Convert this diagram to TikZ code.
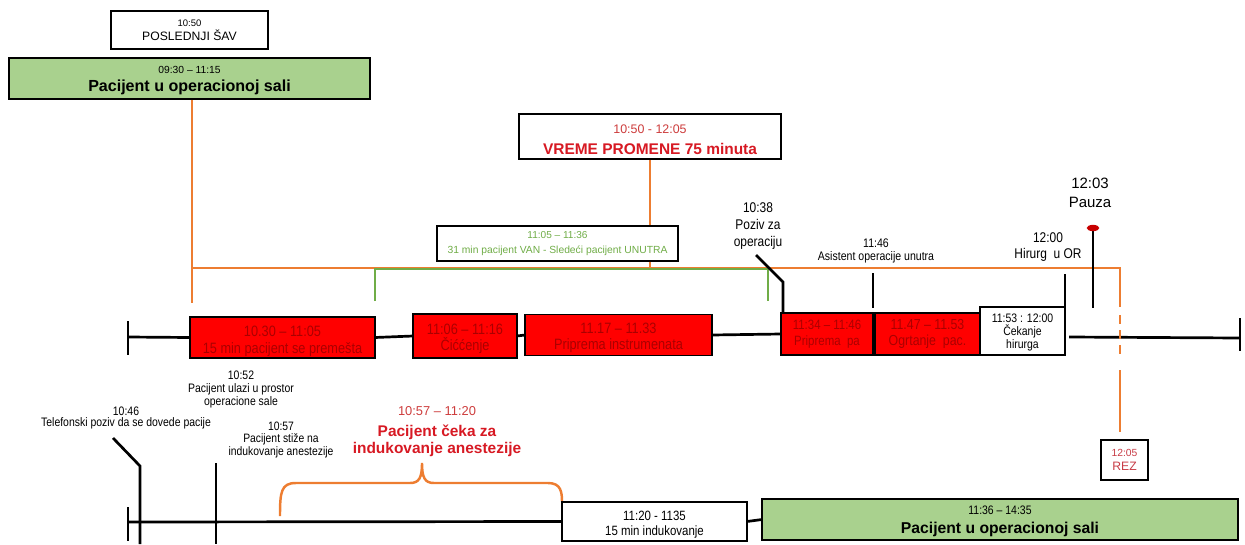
\documentclass[tikz,border=0pt]{standalone}
\usepackage{fontspec}
\setmainfont{Liberation Sans}
\newfontfamily\nar[FakeStretch=0.85]{Liberation Sans}
\usetikzlibrary{backgrounds}
\definecolor{orng}{RGB}{237,125,49}
\definecolor{grn}{RGB}{112,173,71}
\definecolor{grnfill}{RGB}{169,209,142}
\definecolor{redfill}{RGB}{255,0,0}
\definecolor{redtxt}{RGB}{170,0,0}
\definecolor{hred}{RGB}{215,25,35}
\definecolor{lred}{RGB}{205,60,60}
\definecolor{rezred}{RGB}{200,60,70}
\definecolor{dotred}{RGB}{200,0,0}
\newcommand\sr[1]{\rule{0pt}{#1pt}}
\begin{document}
\begin{tikzpicture}[x=0.3mm,y=-0.3mm,
  box/.style={draw=black,line width=1.4pt,inner sep=0pt,outer sep=0pt,align=center},
  redbox/.style={box,fill=redfill,text=redtxt},
  greenbox/.style={box,fill=grnfill},
  whitebox/.style={box,fill=white},
  blk/.style={line width=2.3pt,black},
  orl/.style={line width=2pt,orng},
  grl/.style={line width=2pt,grn},
  lbl/.style={inner sep=0pt,align=center}]
\useasboundingbox (0,0) rectangle (1245,544);

% ---------- boxes ----------
\node[whitebox,minimum width=47.1mm,minimum height=11.4mm,font={\fontsize{8.1}{12}\selectfont}] (last) at (189.5,30)
  {10:50\\\fontsize{10.4}{12}\selectfont POSLEDNJI ŠAV};
\node[greenbox,minimum width=108.3mm,minimum height=12.3mm,font={\fontsize{8.8}{13.7}\selectfont}] (pac1) at (189.5,78.5)
  {\sr{10}09:30 – 11:15\\[2pt]\fontsize{13.7}{13.7}\selectfont\bfseries Pacijent u operacionoj sali};
\node[whitebox,minimum width=78.6mm,minimum height=13.5mm,font={\fontsize{10.6}{15.4}\selectfont}] (vreme) at (650,136.5)
  {\color{lred}\sr{12.6}10:50 - 12:05\\[2.5pt]\color{hred}\fontsize{13.2}{15.4}\selectfont\bfseries VREME PROMENE 75 minuta};
\node[whitebox,text=grn,minimum width=72.3mm,minimum height=10.5mm,font={\fontsize{8.6}{11.1}\selectfont}] (van) at (557.5,243.5)
  {11:05 – 11:36\\[1pt]\fontsize{8.8}{11.1}\selectfont 31 min pacijent VAN - Sledeći pacijent UNUTRA};

\node[redbox,minimum width=55.5mm,minimum height=12.3mm,font={\nar\fontsize{12.8}{13.7}\selectfont}] (r1) at (282.5,337.5)
  {\sr{15}10.30 – 11:05\\[0.5pt]15 min pacijent se premešta};
\node[redbox,minimum width=31.2mm,minimum height=13.2mm,font={\nar\fontsize{12.8}{13.7}\selectfont}] (r2) at (465,336)
  {\sr{14.3}11:06 – 11:16\\Čiććenje};
\node[redbox,minimum width=56.1mm,minimum height=12.3mm,font={\nar\fontsize{12.8}{13.7}\selectfont}] (r3) at (618.5,335)
  {\sr{14.3}11.17 – 11.33\\Priprema instrumenata};
\node[redbox,minimum width=27.6mm,minimum height=12.6mm,font={\nar\fontsize{11.5}{13.7}\selectfont}] (r4) at (827,334)
  {11:34 – 11:46\\Priprema\ \ pa};
\node[redbox,minimum width=31.5mm,minimum height=12.6mm,font={\nar\fontsize{12.4}{13.7}\selectfont}] (r5) at (927.5,334)
  {11.47 – 11.53\\Ogrtanje\ \ pac.};
\node[whitebox,minimum width=25.5mm,minimum height=14.4mm,font={\nar\fontsize{10.5}{11.3}\selectfont}] (wait) at (1022.5,331)
  {\sr{9.5}11:53 : 12:00\\Čekanje\\hirurga};
\node[whitebox,text=rezred,minimum width=14.1mm,minimum height=12mm,font={\fontsize{8.8}{12}\selectfont}] (rez) at (1124.5,460)
  {12:05\\\fontsize{10.4}{12}\selectfont REZ};
\node[whitebox,minimum width=55.5mm,minimum height=11.7mm,font={\nar\fontsize{11.5}{12.8}\selectfont}] (ind) at (654.5,521.5)
  {\sr{13.3}11:20 - 1135\\15 min indukovanje};
\node[greenbox,minimum width=142.8mm,minimum height=12.3mm,font={\nar\fontsize{10.5}{13.2}\selectfont}] (pac2) at (1000,519.5)
  {\sr{10.2}11:36 – 14:35\\[2.5pt]\rmfamily\bfseries\fontsize{13.4}{13.2}\selectfont Pacijent u operacionoj sali};

% ---------- free labels ----------
\node[lbl,font={\nar\fontsize{12}{14.5}\selectfont}] (poziv) at (758,226.5) {10:38\\Poziv za\\operaciju};
\node[lbl,font={\nar\fontsize{10.6}{11.1}\selectfont}] (asist) at (876,250.5) {11:46\\Asistent operacije unutra};
\node[lbl,font={\nar\fontsize{12}{13.7}\selectfont}] (hirurg) at (1048,247.5) {12:00\\Hirurg\ \ u OR};
\node[lbl,font={\fontsize{12.8}{16.2}\selectfont}] (pauza) at (1090,192.5) {12:03\\Pauza};
\node[lbl,font={\nar\fontsize{10.5}{11.1}\selectfont}] (l1052) at (241,389.5) {10:52\\Pacijent ulazi u prostor\\operacione sale};
\node[lbl,font={\nar\fontsize{10.5}{10.2}\selectfont}] (l1046) at (126,418) {10:46\\Telefonski poziv da se dovede pacije};
\node[lbl,font={\nar\fontsize{10.4}{10.7}\selectfont}] (l1057) at (281,440) {10:57\\Pacijent stiže na\\indukovanje anestezije};
\node[lbl,font={\fontsize{11}{14.5}\selectfont}] (ceka) at (437,431.5)
  {\color{lred}10:57 – 11:20\\[3pt]\color{hred}\bfseries\fontsize{13.2}{14.5}\selectfont Pacijent čeka za\\\color{hred}\bfseries\fontsize{13.2}{14.5}\selectfont indukovanje anestezije};

\fill[dotred] (1093,228) ellipse [x radius=1.9mm, y radius=0.95mm];

% ---------- connectors ----------
\begin{scope}[on background layer]
  \coordinate (oA) at (192,99);
  \coordinate (oB) at (192,303);
  \coordinate (oC) at (192,268);
  \coordinate (oD) at (1120,268);
  \coordinate (oE) at (1120,307);
  \coordinate (oF) at (1120,315);
  \coordinate (oG) at (1120,360);
  \coordinate (oH) at (1120,370);
  \coordinate (oI) at (1120,432);
  \draw[orl] (oA) -- (oB);
  \draw[orl] (oC) -- (oD) -- (oE);
  \draw[orl] (vreme.south) -- (vreme.south |- van.north);
  \draw[orl] (vreme.south |- van.south) -- (vreme.south |- oC);

  \coordinate (gA) at (375,301);
  \coordinate (gB) at (375,269);
  \coordinate (gC) at (768,269);
  \coordinate (gD) at (768,301);
  \draw[grl] (gA) -- (gB) -- (gC) -- (gD);

  % main timeline
  \coordinate (tL) at (128,337);
  \coordinate (tR) at (1240,338);
  \coordinate (tW) at (1069,337);
  \draw[blk] (128,321) -- (128,355);
  \draw[blk] (tL) -- (r1.west);
  \draw[blk] (r1.east) -- (r2.west);
  \draw[blk] (r2.east) -- (r3.west);
  \draw[blk] (r3.east) -- (r4.west);
  \draw[blk] (tW) -- (tR);
  \draw[blk] (1240,318) -- (1240,351);

  % markers
  \coordinate (pz1) at (756,255);
  \coordinate (pz2) at (783,282);
  \coordinate (pz3) at (783,313);
  \draw[blk] (pz1) -- (pz2) -- (pz3);
  \coordinate (as1) at (873,273);
  \coordinate (as2) at (873,308);
  \draw[blk] (as1) -- (as2);
  \coordinate (hi1) at (1065,274);
  \coordinate (hi2) at (1065,307);
  \draw[blk] (hi1) -- (hi2);
  \coordinate (pa1) at (1093,228);
  \coordinate (pa2) at (1093,308);
  \draw[blk] (pa1) -- (pa2);

  \draw[orl,dash pattern=on 2.7mm off 1.8mm] (oF) -- (oG);
  \draw[orl] (oH) -- (oI);

  % bottom timeline
  \coordinate (bL) at (128,522);
  \draw[blk] (128,507) -- (128,541);
  \draw[blk] (bL) -- (ind.west);
  \draw[blk] (ind.east) -- (pac2.west);
  \coordinate (tp1) at (113,438);
  \coordinate (tp2) at (140,466);
  \coordinate (tp3) at (140,544);
  \draw[blk] (tp1) -- (tp2) -- (tp3);
  \coordinate (sz1) at (216,463);
  \coordinate (sz2) at (216,544);
  \draw[blk] (sz1) -- (sz2);

  % brace
  \draw[orl,line width=2.1pt] (280,516) .. controls (280,492) and (281,483) .. (296,483) -- (410,483)
     .. controls (419,483) and (422,478) .. (422,463)
     .. controls (422,478) and (425,483) .. (434,483) -- (548,483)
     .. controls (561,483) and (562,492) .. (562,502);
\end{scope}
\end{tikzpicture}
\end{document}
